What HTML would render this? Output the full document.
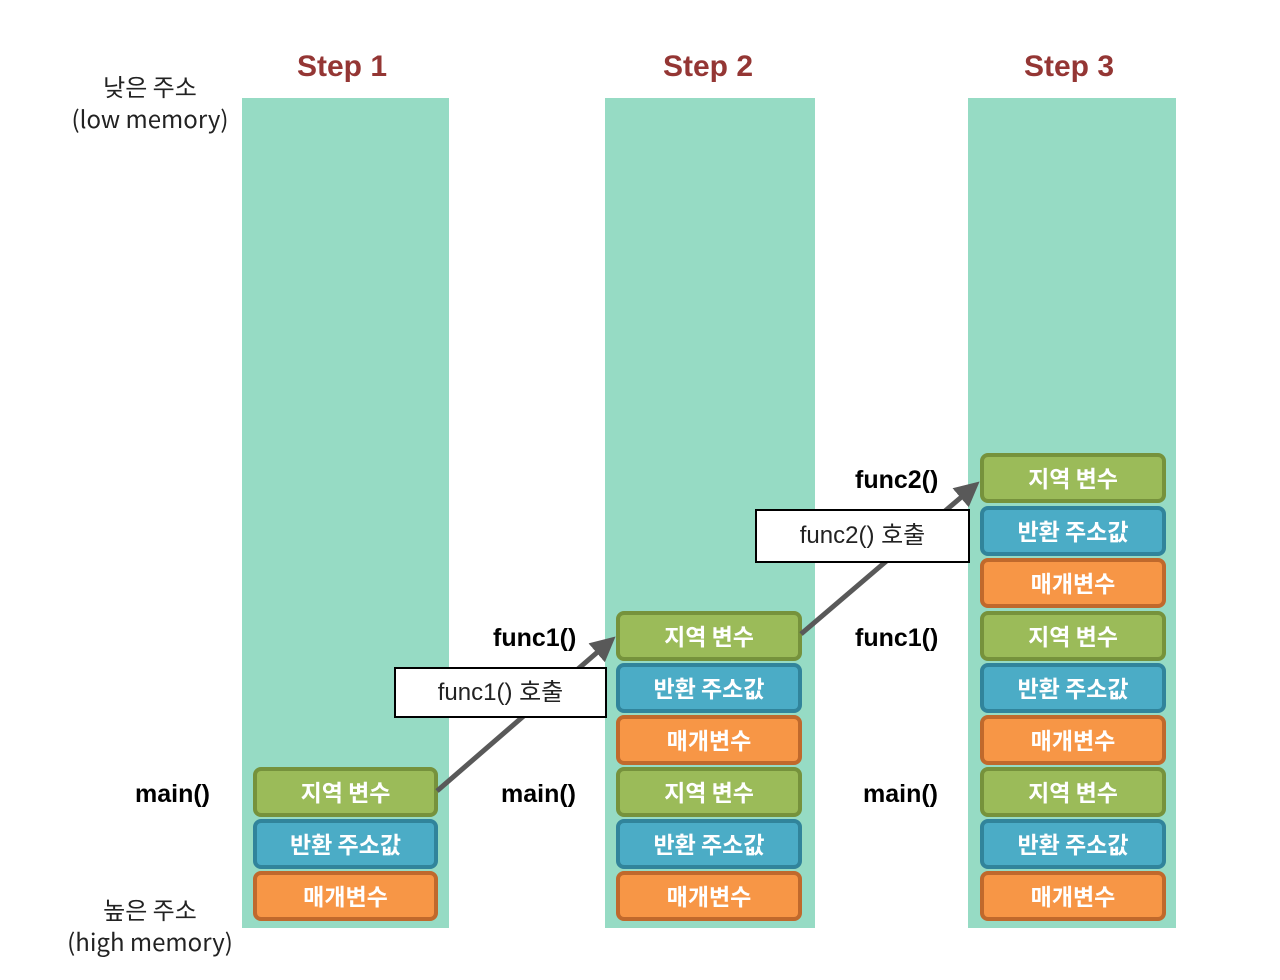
<!DOCTYPE html>
<html><head><meta charset="utf-8"><style>
body{margin:0;width:1280px;height:980px;background:#fff;position:relative;overflow:hidden;font-family:"Liberation Sans","Noto Sans CJK KR",sans-serif}
.col{position:absolute;top:98px;height:830px;background:#96dbc4}
.b{position:absolute;box-sizing:border-box;height:50px;border-radius:8px;border:4px solid;color:#fff;font-weight:bold;font-size:23px;text-align:center;line-height:41px;font-family:"Noto Sans CJK KR",sans-serif}
.g{background:#9bbb59;border-color:#76923c}
.bl{background:#4bacc6;border-color:#31849b}
.o{background:#f79646;border-color:#c0692c}
.t{position:absolute;font-size:25px;font-weight:bold;color:#000}
.s{position:absolute;font-size:30px;font-weight:bold;color:#943634;top:50px}
.lab{position:absolute;font-size:24px;color:#222;text-align:center;font-family:"Noto Sans CJK KR",sans-serif;line-height:32px}
.box{position:absolute;box-sizing:border-box;background:#fff;border:2px solid #000;font-size:24px;text-align:center;font-family:"Liberation Sans","Noto Sans CJK KR",sans-serif;color:#222}
</style></head><body>
<div class="col" style="left:242px;width:207px"></div>
<div class="col" style="left:605px;width:210px"></div>
<div class="col" style="left:968px;width:208px"></div>
<div class="s" style="left:297px">Step 1</div>
<div class="s" style="left:663px">Step 2</div>
<div class="s" style="left:1024px">Step 3</div>
<div class="lab" style="left:50px;top:70px;width:200px">낮은 주소<br>(low memory)</div>
<div class="lab" style="left:50px;top:893px;width:200px">높은 주소<br>(high memory)</div>

<div class="b g" style="left:253px;top:767px;width:185px">지역 변수</div>
<div class="b bl" style="left:253px;top:819px;width:185px">반환 주소값</div>
<div class="b o" style="left:253px;top:871px;width:185px">매개변수</div>

<div class="b g" style="left:616px;top:611px;width:186px">지역 변수</div>
<div class="b bl" style="left:616px;top:663px;width:186px">반환 주소값</div>
<div class="b o" style="left:616px;top:715px;width:186px">매개변수</div>
<div class="b g" style="left:616px;top:767px;width:186px">지역 변수</div>
<div class="b bl" style="left:616px;top:819px;width:186px">반환 주소값</div>
<div class="b o" style="left:616px;top:871px;width:186px">매개변수</div>

<div class="b g" style="left:980px;top:453px;width:186px">지역 변수</div>
<div class="b bl" style="left:980px;top:506px;width:186px">반환 주소값</div>
<div class="b o" style="left:980px;top:558px;width:186px">매개변수</div>
<div class="b g" style="left:980px;top:611px;width:186px">지역 변수</div>
<div class="b bl" style="left:980px;top:663px;width:186px">반환 주소값</div>
<div class="b o" style="left:980px;top:715px;width:186px">매개변수</div>
<div class="b g" style="left:980px;top:767px;width:186px">지역 변수</div>
<div class="b bl" style="left:980px;top:819px;width:186px">반환 주소값</div>
<div class="b o" style="left:980px;top:871px;width:186px">매개변수</div>

<div class="t" style="left:135px;top:780px">main()</div>
<div class="t" style="left:501px;top:780px">main()</div>
<div class="t" style="left:863px;top:780px">main()</div>
<div class="t" style="left:493px;top:624px">func1()</div>
<div class="t" style="left:855px;top:624px">func1()</div>
<div class="t" style="left:855px;top:466px">func2()</div>

<svg style="position:absolute;left:0;top:0" width="1280" height="980">
<defs><marker id="a" markerWidth="5" markerHeight="5" refX="3" refY="2.5" orient="auto"><path d="M0,0L5,2.5L0,5z" fill="#595959"/></marker></defs>
<line x1="437" y1="791" x2="608" y2="643" stroke="#595959" stroke-width="5" marker-end="url(#a)"/>
<line x1="801" y1="634" x2="972" y2="488" stroke="#595959" stroke-width="5" marker-end="url(#a)"/>
</svg>
<div class="box" style="left:394px;top:667px;width:213px;height:51px;line-height:47px">func1() 호출</div>
<div class="box" style="left:755px;top:509px;width:215px;height:54px;line-height:50px">func2() 호출</div>
</body></html>
